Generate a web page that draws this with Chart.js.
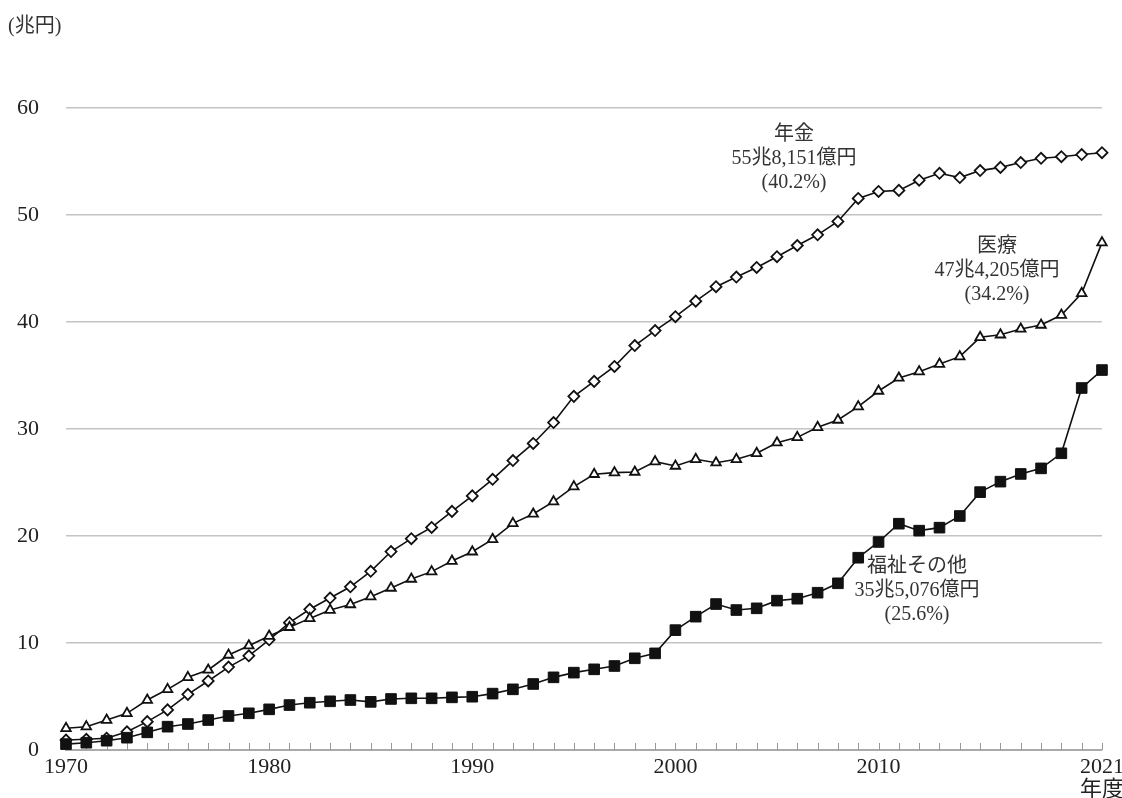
<!DOCTYPE html>
<html lang="ja">
<head>
<meta charset="utf-8">
<script src="https://cdn.jsdelivr.net/npm/chart.js@4.4.1/dist/chart.umd.min.js"></script>
<style>
  html, body { margin: 0; padding: 0; background: #fff; }
  #wrap { width: 1122px; height: 798px; position: relative; }
</style>
</head>
<body>
<div id="wrap"><canvas id="benefitChart"></canvas></div>
<script>
// 年度
const YEARS = [
  1970, 1971, 1972, 1973, 1974, 1975, 1976, 1977, 1978, 1979,
  1980, 1981, 1982, 1983, 1984, 1985, 1986, 1987, 1988, 1989,
  1990, 1991, 1992, 1993, 1994, 1995, 1996, 1997, 1998, 1999,
  2000, 2001, 2002, 2003, 2004, 2005, 2006, 2007, 2008, 2009,
  2010, 2011, 2012, 2013, 2014, 2015, 2016, 2017, 2018, 2019,
  2020, 2021
];
const TICK_YEARS = [1970, 1980, 1990, 2000, 2010, 2021];
const Y_TICKS = [0, 10, 20, 30, 40, 50, 60];

// 兆円
const PENSION = [
  0.93, 1.0, 1.1, 1.7, 2.65, 3.75, 5.2, 6.45, 7.75, 8.8,
  10.3, 11.9, 13.15, 14.2, 15.25, 16.7, 18.55, 19.75, 20.8, 22.3,
  23.75, 25.3, 27.05, 28.65, 30.6, 33.05, 34.45, 35.85, 37.8, 39.2,
  40.5, 41.95, 43.3, 44.2, 45.1, 46.1, 47.15, 48.15, 49.4, 51.55,
  52.2, 52.3, 53.25, 53.9, 53.5, 54.15, 54.45, 54.9, 55.3, 55.45,
  55.65, 55.82
];
const MEDICAL = [
  2.03, 2.18, 2.8, 3.43, 4.67, 5.67, 6.79, 7.48, 8.88, 9.75,
  10.65, 11.47, 12.3, 13.08, 13.6, 14.33, 15.14, 15.98, 16.67, 17.66,
  18.53, 19.69, 21.18, 22.06, 23.21, 24.61, 25.77, 25.92, 25.98, 26.95,
  26.54, 27.17, 26.85, 27.17, 27.73, 28.72, 29.22, 30.16, 30.84, 32.09,
  33.55, 34.77, 35.36, 36.07, 36.76, 38.57, 38.81, 39.35, 39.72, 40.65,
  42.68, 47.42
];
const WELFARE = [
  0.55, 0.68, 0.87, 1.15, 1.65, 2.18, 2.43, 2.8, 3.18, 3.43,
  3.8, 4.2, 4.42, 4.55, 4.67, 4.5, 4.77, 4.83, 4.83, 4.92,
  4.98, 5.27, 5.67, 6.17, 6.79, 7.23, 7.54, 7.85, 8.57, 9.03,
  11.2, 12.46, 13.64, 13.08, 13.24, 13.96, 14.14, 14.7, 15.58, 17.97,
  19.44, 21.15, 20.5, 20.78, 21.87, 24.1, 25.08, 25.8, 26.32, 27.73,
  33.83, 35.51
];

const SERIF = "'Liberation Serif', 'DejaVu Serif', 'Noto Sans CJK JP', serif";

// 系列名・注記
const NOTES = [
  { lines: ['年金', '55兆8,151億円', '(40.2%)'], x: 794, y: 135 },
  { lines: ['医療', '47兆4,205億円', '(34.2%)'], x: 997, y: 247 },
  { lines: ['福祉その他', '35兆5,076億円', '(25.6%)'], x: 917, y: 567 }
];

// x軸の目盛り線（内向き）
const innerTicks = {
  id: 'innerTicks',
  beforeDatasetsDraw(chart) {
    const xs = chart.scales.x;
    const c = chart.ctx;
    const base = chart.chartArea.bottom;
    c.save();
    c.strokeStyle = '#999';
    c.lineWidth = 1;
    xs.ticks.forEach((t, i) => {
      const px = Math.round(xs.getPixelForTick(i)) + 0.5;
      c.beginPath();
      c.moveTo(px, base);
      c.lineTo(px, base - 7);
      c.stroke();
    });
    c.restore();
  }
};

const notesPlugin = {
  id: 'notes',
  afterDraw(chart) {
    const c = chart.ctx;
    c.save();
    c.fillStyle = '#333';
    c.textAlign = 'left';
    c.textBaseline = 'middle';
    c.font = '20px ' + SERIF;
    c.fillText('(兆円)', 8, 27);
    c.textAlign = 'center';
    NOTES.forEach(n => {
      n.lines.forEach((t, i) => c.fillText(t, n.x, n.y + i * 24));
    });
    c.restore();
  }
};

const ctx = document.getElementById('benefitChart').getContext('2d');
const benefitChart = new Chart(ctx, {
  type: 'line',
  data: {
    labels: YEARS,
    datasets: [{
      label: '福祉その他',
      data: WELFARE,
      borderColor: '#111',
      borderWidth: 1.6,
      pointStyle: 'rect',
      pointRadius: 7.5,
      pointBackgroundColor: '#111',
      pointBorderColor: '#111',
      pointBorderWidth: 1
    }, {
      label: '医療',
      data: MEDICAL,
      borderColor: '#111',
      borderWidth: 1.6,
      pointStyle: 'triangle',
      pointRadius: 5.5,
      pointBackgroundColor: '#fff',
      pointBorderColor: '#111',
      pointBorderWidth: 1.8
    }, {
      label: '年金',
      data: PENSION,
      borderColor: '#111',
      borderWidth: 1.6,
      pointStyle: 'rectRot',
      pointRadius: 5.5,
      pointBackgroundColor: '#fff',
      pointBorderColor: '#111',
      pointBorderWidth: 1.8
    }]
  },
  options: {
    responsive: true,
    maintainAspectRatio: false,
    animation: false,
    layout: { padding: { top: 108, right: 8, left: 0, bottom: 0 } },
    plugins: {
      legend: { display: false },
      tooltip: { enabled: false }
    },
    scales: {
      x: {
        type: 'category',
        offset: false,
        grid: { display: false },
        border: { display: true, color: '#aaa', width: 2 },
        ticks: {
          autoSkip: false,
          maxRotation: 0,
          padding: -2,
          color: '#222',
          font: { family: SERIF, size: 22, lineHeight: 1.05 },
          callback: function (value) {
            const yr = this.getLabelForValue(value);
            if (!TICK_YEARS.includes(yr)) return '';
            return yr === 2021 ? ['2021', '年度'] : String(yr);
          }
        },
        afterFit: scale => { scale.height = 48; }
      },
      y: {
        min: 0,
        max: 60,
        afterBuildTicks: scale => { scale.ticks = Y_TICKS.map(v => ({ value: v })); },
        grid: { color: '#c4c4c4', lineWidth: 1.5, drawTicks: false },
        border: { display: false },
        ticks: {
          padding: 27,
          color: '#222',
          font: { family: SERIF, size: 22 }
        },
        afterFit: scale => { scale.width = 66; }
      }
    }
  },
  plugins: [innerTicks, notesPlugin]
});
</script>
</body>
</html>
